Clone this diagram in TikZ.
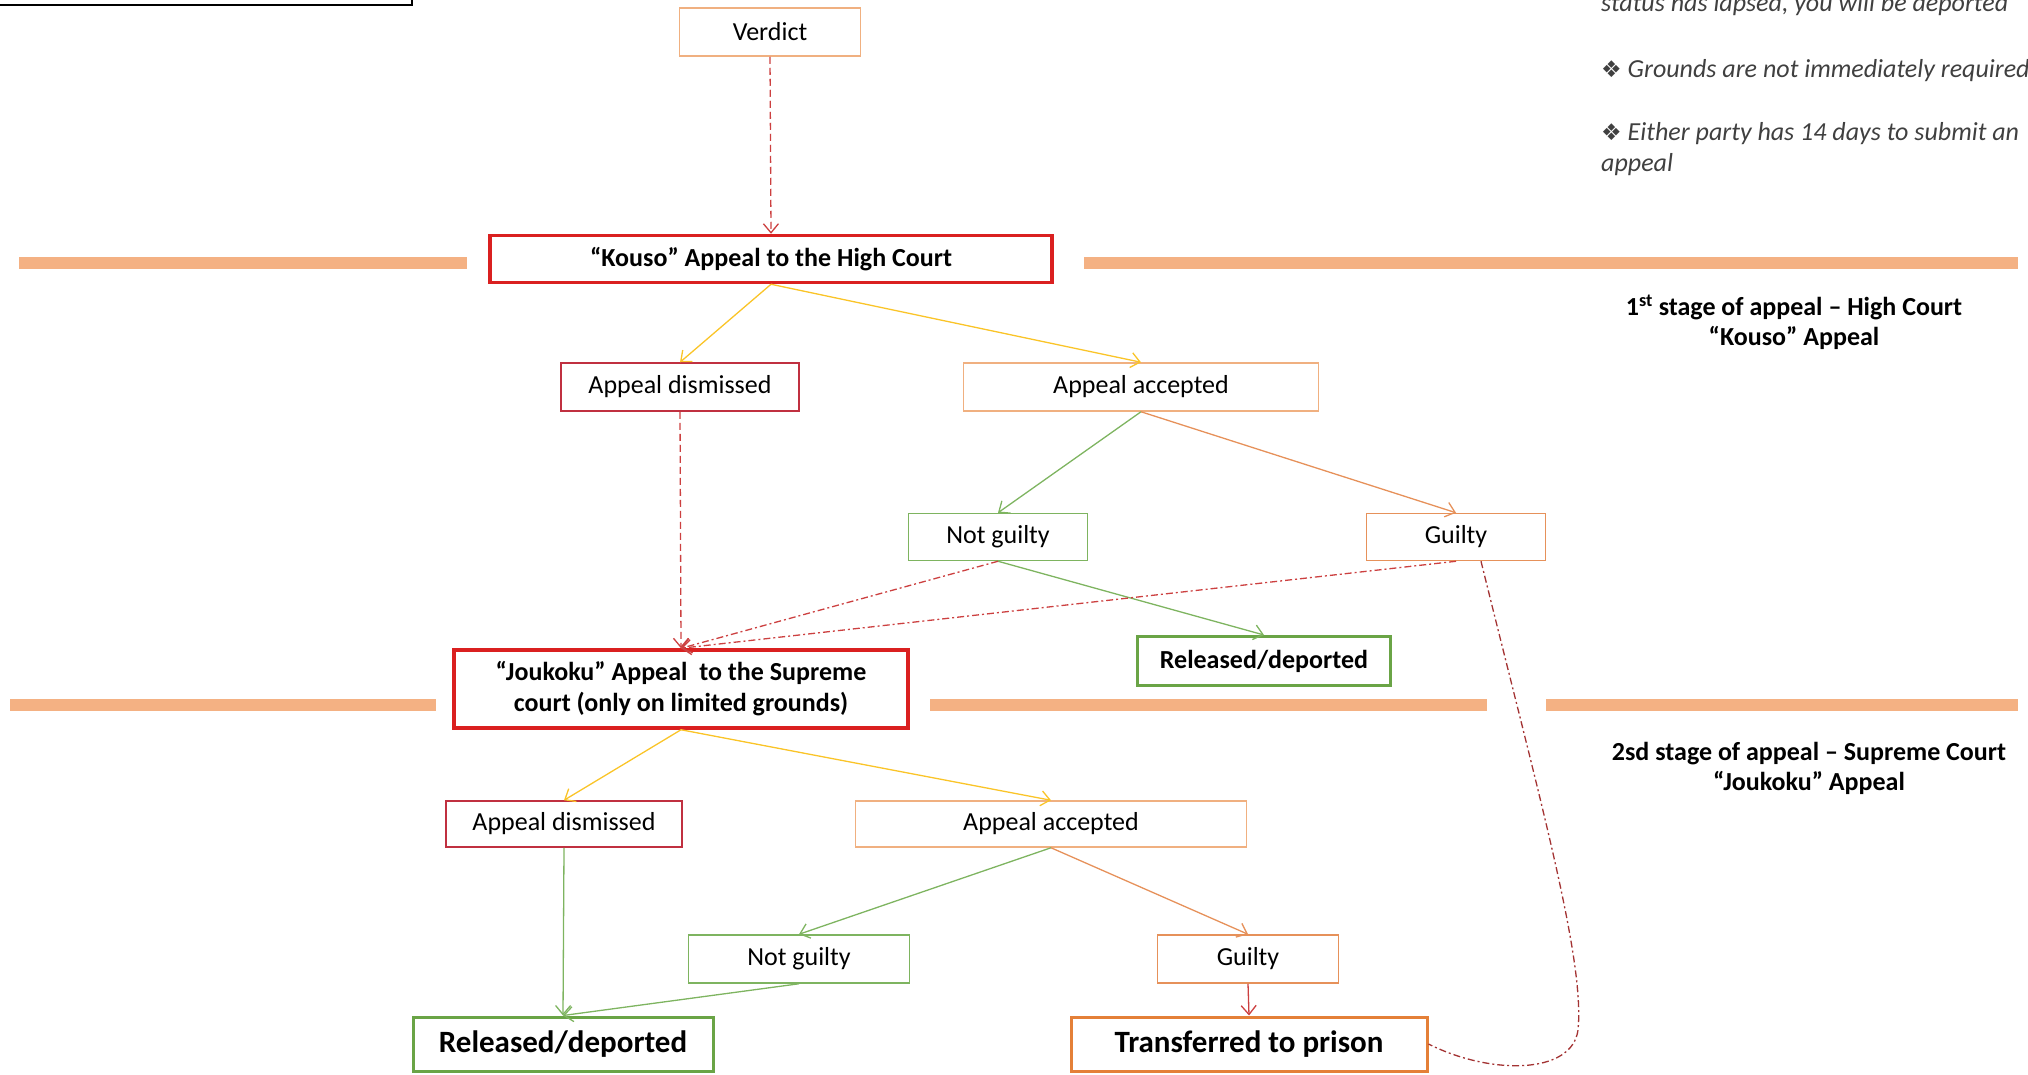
\documentclass[tikz,border=0pt]{standalone}
\usepackage{fontspec}
\setmainfont{Carlito}
\newfontfamily\symfont{DejaVu Sans}
\usetikzlibrary{positioning,shapes,fit,arrows.meta}

\definecolor{barorange}{RGB}{244,177,131}
\definecolor{boxred}{RGB}{218,32,32}
\definecolor{dismred}{RGB}{192,48,64}
\definecolor{lightorange}{RGB}{240,176,128}
\definecolor{midorange}{RGB}{230,145,90}
\definecolor{deeporange}{RGB}{228,128,56}
\definecolor{leafgreen}{RGB}{126,180,96}
\definecolor{darkgreen}{RGB}{106,164,70}
\definecolor{gold}{RGB}{250,196,40}
\definecolor{linered}{RGB}{204,64,64}
\definecolor{notegray}{RGB}{64,64,64}

\begin{document}
\begin{tikzpicture}[x=1pt,y=-1pt,
    font=\fontsize{26}{31}\selectfont,
    box/.style={draw=#1, line width=1.5pt, inner sep=0pt, align=center},
    keybox/.style={draw=#1, line width=3.5pt, inner sep=0pt, align=center, font=\fontsize{26}{31}\selectfont\bfseries},
    endbox/.style={draw=#1, line width=3pt, inner sep=0pt, font=\fontsize{31}{37}\selectfont\bfseries},
    arr/.style={draw=#1, line width=1.3pt, -{Straight Barb[length=9pt,width=15pt]}},
    dashedarr/.style={arr=linered, dash pattern=on 7pt off 4pt},
    dashdotarr/.style={arr=linered, dash pattern=on 7pt off 3pt on 2pt off 3pt},
    note/.style={anchor=base west, inner sep=0pt, text=notegray, font=\fontsize{26}{31}\selectfont\itshape},
    stage/.style={align=center, font=\fontsize{26}{30}\selectfont\bfseries}]
                \useasboundingbox (0,0) rectangle (2028,1074);
                \draw [line width=2.5pt] (-10,-40) rectangle (412,5);
                % separator bars
                \fill[barorange] (19,257) rectangle (467,269);
                \fill[barorange] (1084,257) rectangle (2018,269);
                \fill[barorange] (10,699) rectangle (436,711);
                \fill[barorange] (930,699) rectangle (1487,711);
                \fill[barorange] (1546,699) rectangle (2018,711);
                % first stage
                \node[box=lightorange, minimum width=181pt, minimum height=48pt] (verdict) at (770,32) {Verdict};
                \node[keybox=boxred, minimum width=562pt, minimum height=47pt] (kouso) at (771,259) {“Kouso” Appeal to the High Court};
                \node[box=dismred, minimum width=238pt, minimum height=48pt] (dism1) at (680,387) {Appeal dismissed};
                \node[box=lightorange, minimum width=355pt, minimum height=48pt] (acc1) at (1141,387) {Appeal accepted};
                \node[box=leafgreen, minimum width=179pt, minimum height=47pt] (ng1) at (998,537) {Not guilty};
                \node[box=midorange, minimum width=179pt, minimum height=47pt] (g1) at (1456,537) {Guilty};
                \node[keybox=darkgreen, line width=3pt, minimum width=253pt, minimum height=49pt] (rel1) at (1264,661) {Released/deported};
                % second stage
                \node[keybox=boxred, minimum width=454pt, minimum height=78pt] (jouk) at (681,689) {“Joukoku” Appeal\ \ to the Supreme\\court (only on limited grounds)};
                \node[box=dismred, minimum width=236pt, minimum height=46pt] (dism2) at (564,824) {Appeal dismissed};
                \node[box=lightorange, minimum width=391pt, minimum height=46pt] (acc2) at (1051,824) {Appeal accepted};
                \node[box=leafgreen, minimum width=221pt, minimum height=48pt] (ng2) at (799,959) {Not guilty};
                \node[box=midorange, minimum width=181pt, minimum height=48pt] (g2) at (1248,959) {Guilty};
                \node[endbox=darkgreen, minimum width=300pt, minimum height=54pt] (rel2) at (563,1044) {Released/deported};
                \node[endbox=deeporange, minimum width=356pt, minimum height=54pt] (prison) at (1249,1044) {Transferred to prison};
                % notes on the right
                \node[note] (lapse) at (1601,11) {status\ has lapsed, you\ will be deported};
                \node[note] (grounds) at (1601,77) {{\symfont\upshape\fontsize{23}{24}\selectfont ❖}\ Grounds\ are not immediately required};
                \node[note] (either) at (1601,140) {\hbox to 427pt{{\symfont\upshape\fontsize{23}{24}\selectfont ❖}\ Either party\ has 14 days to submit an\hfil}};
                \node[note] (appealnote) at (1601,171) {appeal};
                \node[stage] (stage1) at (1794,322) {1\textsuperscript{st} stage of appeal -- High Court\\“Kouso” Appeal};
                \node[stage] (stage2) at (1809,768) {2sd stage of appeal -- Supreme Court\\“Joukoku” Appeal};
                % connectors
                \draw[dashedarr] (verdict.south) -- (kouso.north);
                \draw[arr=gold] (kouso.south) -- (dism1.north);
                \draw[arr=gold] (kouso.south) -- (acc1.north);
                \draw[arr=leafgreen] (acc1.south) -- (ng1.north);
                \draw[arr=midorange] (acc1.south) -- (g1.north);
                \draw[arr=leafgreen] (ng1.south) -- (rel1.north);
                \draw[dashedarr] (dism1.south) -- (jouk.north);
                \draw[dashdotarr] (ng1.south) -- (jouk.north);
                \draw[dashdotarr] (g1.south) -- (jouk.north);
                \draw[arr=gold] (jouk.south) -- (dism2.north);
                \draw[arr=gold] (jouk.south) -- (acc2.north);
                \draw[arr=leafgreen] (acc2.south) -- (ng2.north);
                \draw[arr=midorange] (acc2.south) -- (g2.north);
                \draw[arr=leafgreen] (dism2.south) -- (rel2.north);
                \draw[arr=leafgreen] (ng2.south) -- (rel2.north);
                \draw[arr=linered] (g2.south) -- (prison.north);
                \draw[linered!80!black, line width=1.3pt, dash pattern=on 7pt off 3pt on 2pt off 3pt]
                    ([xshift=25pt]g1.south) .. controls (1540,800) and (1585,960) .. (1578,1030)
                    .. controls (1572,1075) and (1490,1075) .. (prison.east);
            \end{tikzpicture}
\end{document}
